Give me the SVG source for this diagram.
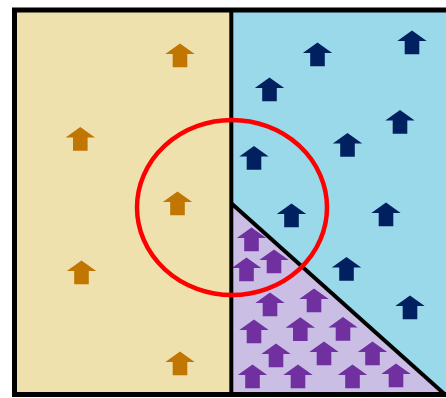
<svg xmlns="http://www.w3.org/2000/svg" width="446" height="398" viewBox="0 0 446 398">
  <defs>
    <path id="arr" d="M0,0 L14.7,10.5 L7.3,10.5 L7.3,23.7 L-7.3,23.7 L-7.3,10.5 L-14.7,10.5 Z"/>
    <style>
      .o { fill: #C07600; }
      .b { fill: #00205F; }
      .p { fill: #7030A0; }
      .line { stroke: #000; fill: none; }
    </style>
  </defs>
  <rect x="0" y="0" width="446" height="398" fill="#fff"/>
  <g id="regions">
    <rect id="tan" x="14.5" y="10" width="217" height="384.5" fill="#EEE1AD"/>
    <rect id="blue" x="231" y="10" width="220" height="384.5" fill="#9AD9EA"/>
    <polygon id="purple" points="231,203 445,394.5 231,394.5" fill="#CBBEE5"/>
  </g>
  <g id="orange-arrows">
    <use href="#arr" class="o" x="180" y="43.5"/>
    <use href="#arr" class="o" x="80.3" y="127"/>
    <use href="#arr" class="o" x="177.5" y="191.5"/>
    <use href="#arr" class="o" x="81.5" y="260.5"/>
    <use href="#arr" class="o" x="180" y="351.5"/>
  </g>
  <g id="blue-arrows">
    <use href="#arr" class="b" x="317.5" y="42.5"/>
    <use href="#arr" class="b" x="412" y="30.5"/>
    <use href="#arr" class="b" x="269.5" y="77.5"/>
    <use href="#arr" class="b" x="400" y="110"/>
    <use href="#arr" class="b" x="347.5" y="133"/>
    <use href="#arr" class="b" x="254" y="146"/>
    <use href="#arr" class="b" x="291.5" y="203.5"/>
    <use href="#arr" class="b" x="386" y="202.5"/>
    <use href="#arr" class="b" x="346.5" y="257"/>
    <use href="#arr" class="b" x="410" y="295.5"/>
  </g>
  <g id="purple-arrows">
    <use href="#arr" class="p" x="251.5" y="227.5"/>
    <use href="#arr" class="p" x="274" y="249.5"/>
    <use href="#arr" class="p" x="246.5" y="257.5"/>
    <use href="#arr" class="p" x="270" y="292.5"/>
    <use href="#arr" class="p" x="314" y="288.5"/>
    <use href="#arr" class="p" x="254" y="319.5"/>
    <use href="#arr" class="p" x="300.3" y="317.3"/>
    <use href="#arr" class="p" x="343" y="317"/>
    <use href="#arr" class="p" x="276" y="343.5"/>
    <use href="#arr" class="p" x="324" y="341.5"/>
    <use href="#arr" class="p" x="372.5" y="341.5"/>
    <use href="#arr" class="p" x="252.5" y="364.5"/>
    <use href="#arr" class="p" x="298" y="364.5"/>
    <use href="#arr" class="p" x="352.5" y="364.5"/>
    <use href="#arr" class="p" x="396" y="363.5"/>
  </g>
  <g id="connectors">
    <line class="line" x1="231.3" y1="10" x2="231.3" y2="394.5" stroke-width="4"/>
    <line class="line" x1="231" y1="203" x2="445" y2="394.5" stroke-width="4"/>
  </g>
  <g id="frame">
    <path class="line" d="M450,10 L14.5,10 L14.5,394.5 L450,394.5" stroke-width="5"/>
  </g>
  <g id="circle">
    <ellipse cx="232" cy="207.5" rx="95" ry="87.5" fill="none" stroke="#FF0000" stroke-width="4.5"/>
  </g>
</svg>
